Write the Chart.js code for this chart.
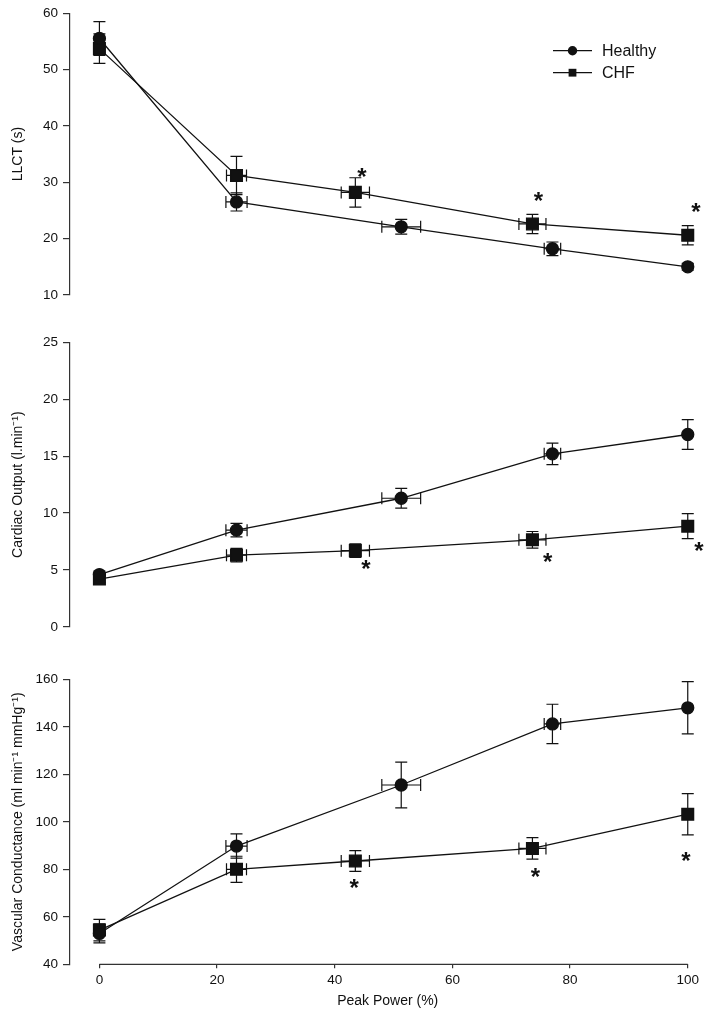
<!DOCTYPE html>
<html>
<head>
<meta charset="utf-8">
<script src="https://cdn.jsdelivr.net/npm/chart.js@4.4.1/dist/chart.umd.min.js"></script>
<style>
  body { margin: 0; background: #fff; }
  #wrap { position: relative; width: 715px; height: 1017px; }
  .panel { position: absolute; left: 0; }
</style>
</head>
<body>
<div id="wrap">
  <canvas id="llct" class="panel" style="top:0px" width="715" height="310"></canvas>
  <canvas id="co" class="panel" style="top:320px" width="715" height="320"></canvas>
  <canvas id="vc" class="panel" style="top:650px" width="715" height="367"></canvas>
</div>
<script>
// x positions (% of peak power) and their horizontal SEM
const xTicks = [0, 20, 40, 60, 80, 100];
const healthyX = [0, 23.3, 51.3, 77.0, 100];
const healthyXErr = [0, 1.8, 3.3, 1.4, 0];
const chfX = [0, 23.3, 43.5, 73.6, 100];
const chfXErr = [0, 1.7, 2.4, 2.3, 0];

// LLCT (s)
const llctHealthy = [55.5, 26.5, 22.1, 18.2, 15.0];
const llctHealthyErr = [3.0, 1.6, 1.3, 1.2, 0.6];
const llctChf = [53.7, 31.2, 28.2, 22.6, 20.6];
const llctChfErr = [2.6, 3.4, 2.6, 1.7, 1.7];
const llctStarX = [44.6, 74.6, 101.4];
const llctStarY = [31.8, 27.4, 25.6];

// Cardiac output (l/min)
const coHealthy = [4.6, 8.5, 11.3, 15.2, 16.9];
const coHealthyErr = [0.3, 0.6, 0.87, 0.95, 1.3];
const coChf = [4.2, 6.3, 6.7, 7.65, 8.85];
const coChfErr = [0.3, 0.6, 0.6, 0.73, 1.1];
const coStarX = [45.3, 76.2, 101.9];
const coStarY = [5.47, 6.1, 7.1];

// Vascular conductance
const vcHealthy = [53.0, 89.8, 115.5, 141.2, 148.0];
const vcHealthyErr = [4.0, 5.1, 9.6, 8.3, 11.0];
const vcChf = [54.4, 80.0, 83.5, 88.8, 103.2];
const vcChfErr = [4.5, 5.5, 4.4, 4.5, 8.7];
const vcStarX = [43.3, 74.1, 99.7];
const vcStarY = [74.1, 78.6, 85.3];

const seriesNames = ['Healthy', 'CHF'];

const FONT = 'Liberation Sans, Arial, Helvetica, sans-serif';
const INK = '#111';
const AXIS = '#333';

function pts(xs, ys) {
    return xs.map((x, i) => ({ x: x, y: ys[i] }));
}

// error bars (both directions) drawn under the markers
const errorBars = {
    id: 'errorBars',
    beforeDatasetsDraw(chart) {
        const { ctx, scales: { x, y } } = chart;
        ctx.save();
        ctx.strokeStyle = INK;
        ctx.lineWidth = 1.2;
        const cap = 6;
        chart.data.datasets.forEach(ds => {
            ds.data.forEach((p, i) => {
                const px = x.getPixelForValue(p.x);
                const py = y.getPixelForValue(p.y);
                const ye = ds.yErr[i];
                const xe = ds.xErr[i];
                ctx.beginPath();
                if (ye > 0) {
                    const y1 = y.getPixelForValue(p.y + ye);
                    const y2 = y.getPixelForValue(p.y - ye);
                    ctx.moveTo(px, y1); ctx.lineTo(px, y2);
                    ctx.moveTo(px - cap, y1); ctx.lineTo(px + cap, y1);
                    ctx.moveTo(px - cap, y2); ctx.lineTo(px + cap, y2);
                }
                if (xe > 0) {
                    const x1 = x.getPixelForValue(p.x - xe);
                    const x2 = x.getPixelForValue(p.x + xe);
                    ctx.moveTo(x1, py); ctx.lineTo(x2, py);
                    ctx.moveTo(x1, py - cap); ctx.lineTo(x1, py + cap);
                    ctx.moveTo(x2, py - cap); ctx.lineTo(x2, py + cap);
                }
                ctx.stroke();
            });
        });
        ctx.restore();
    }
};

// significance asterisks
const stars = {
    id: 'stars',
    afterDatasetsDraw(chart, args, opts) {
        if (!opts.x) return;
        const { ctx, scales: { x, y } } = chart;
        ctx.save();
        ctx.fillStyle = INK;
        ctx.font = 'bold 24px ' + FONT;
        ctx.textAlign = 'center';
        ctx.textBaseline = 'alphabetic';
        const m = ctx.measureText('*');
        const shift = (m.actualBoundingBoxAscent - m.actualBoundingBoxDescent) / 2;
        opts.x.forEach((sx, i) => {
            ctx.fillText('*', x.getPixelForValue(sx), y.getPixelForValue(opts.y[i]) + shift);
        });
        ctx.restore();
    }
};

// offset x axis line, only from 0 to 100
const xAxisLine = {
    id: 'xAxisLine',
    beforeDatasetsDraw(chart, args, opts) {
        if (!opts.show) return;
        const { ctx, chartArea, scales: { x } } = chart;
        ctx.save();
        ctx.strokeStyle = AXIS;
        ctx.lineWidth = 1.2;
        ctx.beginPath();
        ctx.moveTo(x.getPixelForValue(xTicks[0]), chartArea.bottom);
        ctx.lineTo(x.getPixelForValue(xTicks[xTicks.length - 1]), chartArea.bottom);
        ctx.stroke();
        ctx.restore();
    }
};

// SigmaPlot style legend: line through the marker
const lineLegend = {
    id: 'lineLegend',
    afterDatasetsDraw(chart, args, opts) {
        if (!opts.show) return;
        const { ctx } = chart;
        ctx.save();
        ctx.strokeStyle = INK;
        ctx.fillStyle = INK;
        ctx.lineWidth = 1.3;
        ctx.font = '16px ' + FONT;
        ctx.textBaseline = 'middle';
        seriesNames.forEach((name, i) => {
            const ly = opts.top + i * opts.gap;
            ctx.beginPath();
            ctx.moveTo(opts.left, ly);
            ctx.lineTo(opts.left + 39, ly);
            ctx.stroke();
            const cx = opts.left + 19.5;
            if (i === 0) {
                ctx.beginPath();
                ctx.arc(cx, ly, 4.7, 0, Math.PI * 2);
                ctx.fill();
            } else {
                ctx.fillRect(cx - 3.9, ly - 3.9, 7.8, 7.8);
            }
            ctx.fillText(name, opts.left + 49, ly + 1);
        });
        ctx.restore();
    }
};

function makePanel(id, o) {
    const dsBase = {
        borderColor: INK,
        backgroundColor: INK,
        pointBackgroundColor: INK,
        pointBorderColor: INK,
        borderWidth: 1.3,
        tension: 0,
        clip: false
    };
    return new Chart(document.getElementById(id), {
        type: 'line',
        data: {
            datasets: [
                Object.assign({}, dsBase, {
                    label: seriesNames[0],
                    data: pts(healthyX, o.healthy),
                    yErr: o.healthyErr,
                    xErr: healthyXErr,
                    pointStyle: 'circle',
                    pointRadius: 6,
                    pointHoverRadius: 6
                }),
                Object.assign({}, dsBase, {
                    label: seriesNames[1],
                    data: pts(chfX, o.chf),
                    yErr: o.chfErr,
                    xErr: chfXErr,
                    pointStyle: 'rect',
                    pointRadius: 8.3,
                    pointHoverRadius: 8.3
                })
            ]
        },
        options: {
            responsive: false,
            animation: false,
            events: [],
            layout: { padding: { top: o.padTop, bottom: o.padBottom, left: 0, right: 3.5 } },
            plugins: {
                legend: { display: false },
                tooltip: { enabled: false },
                stars: { x: o.starX, y: o.starY },
                xAxisLine: { show: !!o.showX },
                lineLegend: o.legend || { show: false }
            },
            scales: {
                x: {
                    type: 'linear',
                    min: -5,
                    max: 103,
                    display: !!o.showX,
                    border: { display: false },
                    grid: { drawOnChartArea: false, tickLength: 4, color: AXIS, lineWidth: 1.2 },
                    ticks: { font: { family: FONT, size: 13.5 }, color: INK, padding: 4, maxRotation: 0 },
                    afterBuildTicks: s => { s.ticks = xTicks.map(v => ({ value: v })); },
                    afterFit: s => { s.height = o.showX ? 52.7 : 0; },
                    title: {
                        display: true,
                        text: 'Peak Power (%)',
                        font: { family: FONT, size: 14 },
                        color: INK,
                        padding: { top: 0, bottom: 7 }
                    }
                },
                y: {
                    min: o.yMin,
                    max: o.yMax,
                    border: { display: true, color: AXIS, width: 1.2 },
                    grid: { drawOnChartArea: false, tickLength: 7, color: AXIS, lineWidth: 1.2 },
                    ticks: { stepSize: o.yStep, font: { family: FONT, size: 13.5 }, color: INK, padding: 5 },
                    afterFit: s => { s.width = 70; },
                    title: {
                        display: true,
                        text: o.yTitle,
                        font: { family: FONT, size: 14 },
                        color: INK,
                        padding: { top: 10, bottom: 0 }
                    }
                }
            }
        },
        plugins: [errorBars, stars, xAxisLine, lineLegend]
    });
}

makePanel('llct', {
    healthy: llctHealthy, healthyErr: llctHealthyErr,
    chf: llctChf, chfErr: llctChfErr,
    starX: llctStarX, starY: llctStarY,
    yMin: 10, yMax: 60, yStep: 10, yTitle: 'LLCT (s)',
    padTop: 10, padBottom: 15,
    legend: { show: true, left: 553, top: 50.7, gap: 22 }
});

makePanel('co', {
    healthy: coHealthy, healthyErr: coHealthyErr,
    chf: coChf, chfErr: coChfErr,
    starX: coStarX, starY: coStarY,
    yMin: 0, yMax: 25, yStep: 5, yTitle: 'Cardiac Output (l.min\u207B\u00B9)',
    padTop: 22.3, padBottom: 11.7
});

makePanel('vc', {
    healthy: vcHealthy, healthyErr: vcHealthyErr,
    chf: vcChf, chfErr: vcChfErr,
    starX: vcStarX, starY: vcStarY,
    yMin: 40, yMax: 160, yStep: 20, yTitle: 'Vascular Conductance (ml min\u207B\u00B9 mmHg\u207B\u00B9)',
    padTop: 29.3, padBottom: 0,
    showX: true
});
</script>
</body>
</html>
